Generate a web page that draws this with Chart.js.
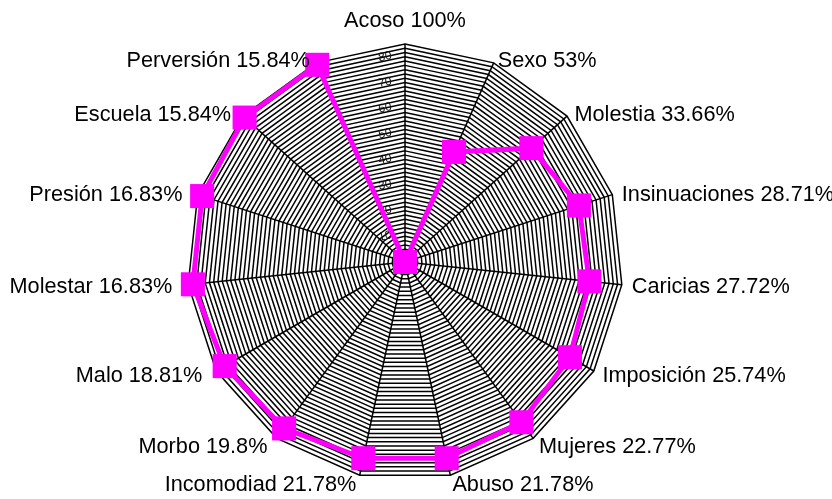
<!DOCTYPE html>
<html>
<head>
<meta charset="utf-8">
<title>Radar</title>
<script src="https://cdn.jsdelivr.net/npm/chart.js@4/dist/chart.umd.min.js"></script>
<style>
    html, body { margin: 0; padding: 0; background: #fff; }
    #wrap { width: 832px; height: 499px; position: relative; }
</style>
</head>
<body>
<div id="wrap"><canvas id="radarChart"></canvas></div>
<script>
// Categories (clockwise from the top) and the share shown next to each one
const categories = ['Acoso', 'Sexo', 'Molestia', 'Insinuaciones', 'Caricias', 'Imposición', 'Mujeres',
    'Abuso', 'Incomodiad', 'Morbo', 'Malo', 'Molestar', 'Presión', 'Escuela', 'Perversión'];
const shares = [100, 53, 33.66, 28.71, 27.72, 25.74, 22.77, 21.78, 21.78, 19.8, 18.81, 16.83, 16.83, 15.84, 15.84];
// The series plots what is left up to 100%
const remainder = shares.map(v => 100 - v);

// Radial axis
const tickValues = [10, 20, 30, 40, 50, 60, 70, 80];
const axisMax = 85;
const gridStep = 10 / 6;

const labelFont = '21.7px "Liberation Sans", Arial, sans-serif';
const tickFont = '12px "Liberation Sans", Arial, sans-serif';

// Category labels: left aligned on the right half, right aligned on the left half
const categoryLabels = {
    id: 'categoryLabels',
    afterDraw(chart) {
        const scale = chart.scales.r;
        const ctx = chart.ctx;
        ctx.save();
        ctx.font = labelFont;
        ctx.fillStyle = '#000';
        ctx.textBaseline = 'middle';
        categories.forEach((name, i) => {
            const edge = scale.getPointPosition(i, scale.drawingArea);
            const dx = (edge.x - scale.xCenter) / scale.drawingArea;
            const dy = (edge.y - scale.yCenter) / scale.drawingArea;
            const gapX = dx < 0 ? 16 : 10;
            const gapY = dy < 0 ? 3 : 9;
            let x = edge.x + dx * gapX;
            let y = edge.y + dy * gapY + 1;
            if (Math.abs(dx) < 0.01) {
                ctx.textAlign = 'center';
                y += dy * 21;
            } else {
                ctx.textAlign = dx > 0 ? 'left' : 'right';
            }
            ctx.fillText(name + ' ' + shares[i] + '%', x, y);
        });
        ctx.restore();
    }
};

// Small tilted axis numbers next to the top spoke, under the series
const axisNumbers = {
    id: 'axisNumbers',
    beforeDatasetsDraw(chart) {
        const scale = chart.scales.r;
        const ctx = chart.ctx;
        ctx.save();
        ctx.font = tickFont;
        ctx.fillStyle = '#111';
        ctx.textAlign = 'center';
        ctx.textBaseline = 'middle';
        tickValues.forEach(v => {
            const y = scale.yCenter - scale.getDistanceFromCenterForValue(v);
            ctx.save();
            ctx.translate(scale.xCenter - 20, y);
            ctx.rotate(-12 * Math.PI / 180);
            ctx.fillText(String(v), 0, 0);
            ctx.restore();
        });
        ctx.restore();
    }
};

new Chart(document.getElementById('radarChart').getContext('2d'), {
    type: 'radar',
    data: {
        labels: categories,
        datasets: [{
            data: remainder,
            borderColor: '#FF00FF',
            backgroundColor: '#FF00FF',
            borderWidth: 5,
            fill: false,
            tension: 0,
            pointStyle: 'rect',
            pointRadius: 17,
            pointHoverRadius: 17,
            pointBorderWidth: 0,
            pointBackgroundColor: '#FF00FF'
        }]
    },
    options: {
        responsive: true,
        maintainAspectRatio: false,
        animation: false,
        devicePixelRatio: 1,
        layout: {
            padding: { top: 44, bottom: 19, left: 0, right: 22 }
        },
        plugins: {
            legend: { display: false },
            tooltip: { enabled: false }
        },
        scales: {
            r: {
                min: 0,
                max: axisMax,
                afterBuildTicks: scale => {
                    const count = Math.round(axisMax / gridStep);
                    const ticks = [];
                    for (let i = 0; i <= count; i++) {
                        ticks.push({ value: i === count ? axisMax : i * gridStep });
                    }
                    scale.ticks = ticks;
                },
                ticks: { display: false },
                pointLabels: { display: false },
                grid: { color: '#000', lineWidth: 1.5, circular: false },
                angleLines: { color: '#000', lineWidth: 1.5 }
            }
        }
    },
    plugins: [categoryLabels, axisNumbers]
});
</script>
</body>
</html>
